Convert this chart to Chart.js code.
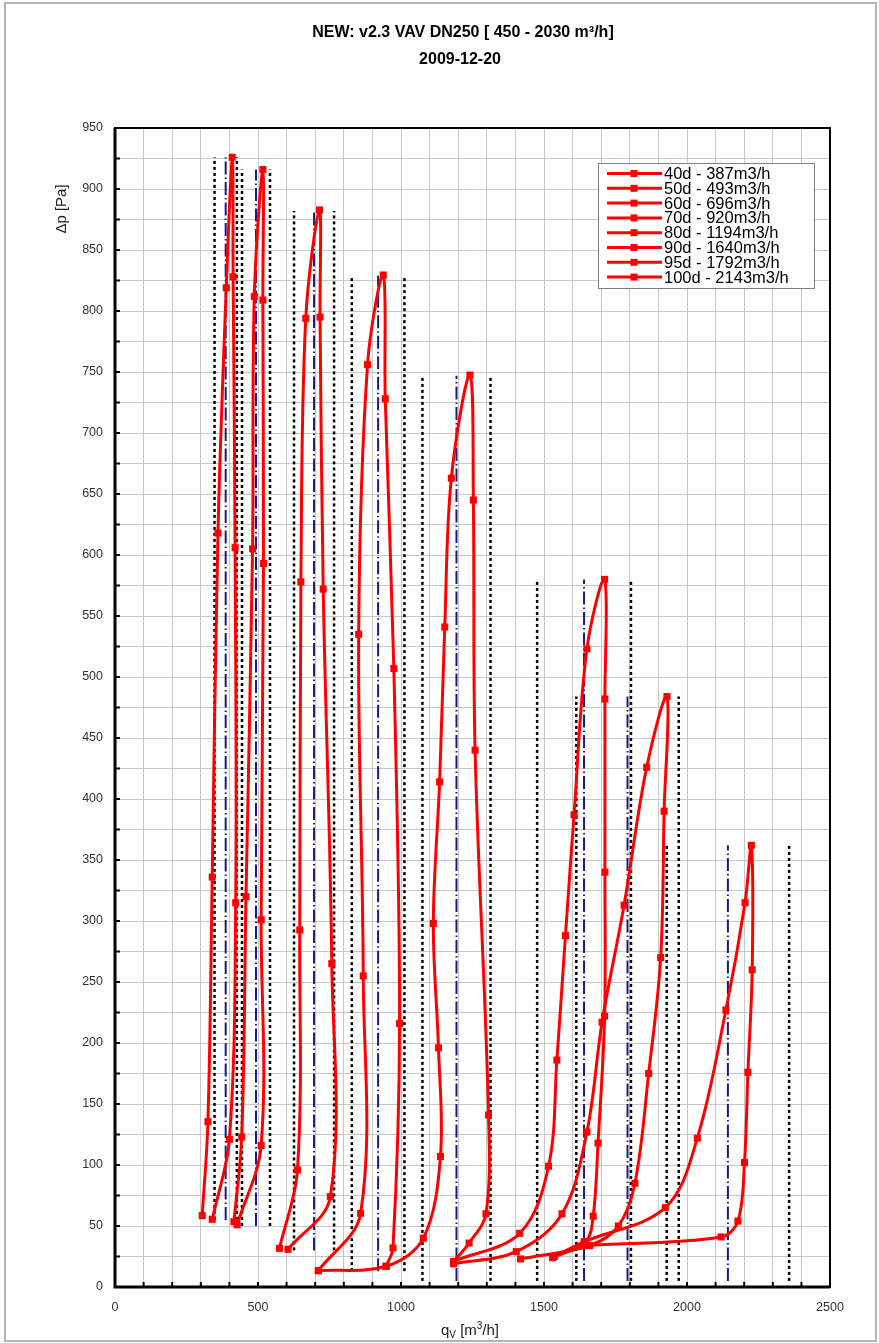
<!DOCTYPE html>
<html>
<head>
<meta charset="utf-8">
<script src="https://cdn.jsdelivr.net/npm/chart.js@4.4.1/dist/chart.umd.min.js"></script>
<style>
  body { margin: 0; background: #fff; }
  canvas { display: block; }
</style>
</head>
<body>
<canvas id="vavChart" width="879" height="1343"></canvas>
<script>
// damper loops, flow qV [m3/h] and pressure dp [Pa]
const q40 = [305, 325, 340, 360, 389, 410, 413, 420, 422, 400, 340];
const p40 = [58.5, 135.5, 336, 618, 819, 926, 828, 606, 315, 121, 55.5];

const q50 = [416, 443, 458, 481, 487, 517, 517, 519, 511, 511, 427];
const p50 = [53.5, 123, 320, 605, 812, 916, 809, 593, 301, 116, 51];

const q60 = [575, 638, 646, 650, 667, 715, 717, 728, 758, 753, 605];
const p60 = [31.7, 96, 292.6, 578, 794, 882.8, 795, 572, 265, 74, 30.9];

const q70 = [711, 859, 868, 852, 883, 938, 945, 975, 995, 972, 948];
const p70 = [13.4, 60.4, 255, 535, 756, 829.5, 728, 507, 216, 32, 17];

const q80 = [711, 948, 1078, 1138, 1131, 1113, 1135, 1153, 1176, 1241, 1253, 1259, 1306, 1297, 1238, 1184];
const p80 = [13.4, 17, 40, 107, 196, 298, 414, 541, 663, 747.5, 645, 440, 141, 60, 36, 20.7];

const q90 = [1184, 1415, 1516, 1545, 1575, 1605, 1650, 1712, 1713, 1713, 1712, 1689, 1672, 1645, 1530];
const p90 = [21, 44, 99, 186, 288, 387, 523, 580, 482, 340, 222, 118, 58, 37, 24];

const q95 = [1184, 1403, 1563, 1650, 1703, 1780, 1859, 1930, 1920, 1908, 1866, 1818, 1760, 1660, 1418];
const p95 = [19, 29, 60, 127, 217, 313, 426, 484, 390, 270, 175, 85, 50, 34, 23];

const q100 = [1536, 1640, 1924, 2036, 2136, 2203, 2225, 2228, 2213, 2201, 2178, 2119, 1645];
const p100 = [25, 37, 65, 122, 227, 315, 362, 260, 176, 102, 54, 41, 34];

const seriesLabels = ["40d - 387m3/h", "50d - 493m3/h", "60d - 696m3/h", "70d - 920m3/h",
  "80d - 1194m3/h", "90d - 1640m3/h", "95d - 1792m3/h", "100d - 2143m3/h"];

// nominal flow (blue) and tolerance limits (black dotted) per damper angle
const nominalFlow = [387, 493, 696, 920, 1194, 1640, 1792, 2143];
const lowerFlow = [348, 444, 626, 828, 1075, 1476, 1613, 1929];
const upperFlow = [426, 542, 766, 1012, 1313, 1804, 1971, 2357];
const lineTop = [926, 916, 882, 829, 747, 580, 484, 362];
const lineBottom = [55, 50, 30, 13, 5, 5, 5, 5];

const curveQ = [q40, q50, q60, q70, q80, q90, q95, q100];
const curveP = [p40, p50, p60, p70, p80, p90, p95, p100];

const RED = "#ff0000";
const NAVY = "#1a1a80";
const FONT = "'Liberation Sans', Arial, sans-serif";

let datasets = [];

// vertical reference lines first, drawn under the curves
for (let i = 0; i < nominalFlow.length; i++) {
  [lowerFlow[i], upperFlow[i]].forEach(function (q) {
    datasets.push({
      data: [{ x: q, y: lineBottom[i] }, { x: q, y: lineTop[i] }],
      showLine: true, pointRadius: 0, borderColor: "#000", borderWidth: 2.5,
      borderDash: [3, 3], order: 2
    });
  });
  datasets.push({
    data: [{ x: nominalFlow[i], y: lineBottom[i] }, { x: nominalFlow[i], y: lineTop[i] }],
    showLine: true, pointRadius: 0, borderColor: NAVY, borderWidth: 2,
    borderDash: [13, 3, 1.5, 3], order: 2
  });
}

for (let i = 0; i < curveQ.length; i++) {
  datasets.push({
    label: seriesLabels[i],
    data: curveQ[i].map(function (q, k) { return { x: q, y: curveP[i][k] }; }),
    showLine: true, tension: 0.35, borderColor: RED, borderWidth: 3,
    pointStyle: "rect", pointRadius: 5, pointBackgroundColor: RED,
    pointBorderColor: RED, pointBorderWidth: 0, order: 1
  });
}

// frame, inside tick marks, titles and the boxed legend
const sheetDecor = {
  id: "sheetDecor",
  afterDraw(chart) {
    const ctx = chart.ctx;
    const a = chart.chartArea;
    const xs = chart.scales.x, ys = chart.scales.y;
    ctx.save();

    // outer grey frame of the sheet
    ctx.strokeStyle = "#b4b4b4";
    ctx.lineWidth = 2;
    ctx.strokeRect(5, 3, 871, 1338);

    // tick marks pointing into the plot
    ctx.strokeStyle = "#000";
    ctx.lineWidth = 2;
    xs.ticks.forEach(function (t) {
      const px = xs.getPixelForValue(t.value);
      ctx.beginPath(); ctx.moveTo(px, a.bottom); ctx.lineTo(px, a.bottom - 5); ctx.stroke();
    });
    ys.ticks.forEach(function (t) {
      const py = ys.getPixelForValue(t.value);
      ctx.beginPath(); ctx.moveTo(a.left, py); ctx.lineTo(a.left + 5, py); ctx.stroke();
    });

    // plot frame
    ctx.lineWidth = 2;
    ctx.strokeRect(a.left, a.top, a.right - a.left, a.bottom - a.top);
    ctx.lineWidth = 3;
    ctx.beginPath();
    ctx.moveTo(a.left, a.top); ctx.lineTo(a.left, a.bottom); ctx.lineTo(a.right, a.bottom);
    ctx.stroke();

    // title
    ctx.fillStyle = "#000";
    ctx.textAlign = "center";
    ctx.textBaseline = "middle";
    ctx.font = "bold 16px " + FONT;
    ctx.fillText("NEW: v2.3 VAV DN250 [ 450 - 2030 m³/h]", 463, 33);
    ctx.fillText("2009-12-20", 460, 60);

    // y axis title
    ctx.fillStyle = "#222";
    ctx.font = "15px " + FONT;
    ctx.save();
    ctx.translate(62, 209);
    ctx.rotate(-Math.PI / 2);
    ctx.fillText("Δp [Pa]", 0, 0);
    ctx.restore();

    // x axis title with subscript V
    ctx.textAlign = "left";
    const parts = [["q", "15px", 0], ["V", "10px", 4], [" [m", "15px", 0], ["3", "10px", -5], ["/h]", "15px", 0]];
    let w = 0;
    parts.forEach(function (p) { ctx.font = p[1] + " " + FONT; w += ctx.measureText(p[0]).width; });
    let cx = 470 - w / 2;
    parts.forEach(function (p) {
      ctx.font = p[1] + " " + FONT;
      ctx.fillText(p[0], cx, 1331 + p[2]);
      cx += ctx.measureText(p[0]).width;
    });

    // legend box
    const lx = 598, ly = 163, lw = 216, lh = 125;
    ctx.fillStyle = "#fff";
    ctx.fillRect(lx, ly, lw, lh);
    ctx.strokeStyle = "#808080";
    ctx.lineWidth = 1;
    ctx.strokeRect(lx + 0.5, ly + 0.5, lw, lh);
    ctx.font = "16.5px " + FONT;
    ctx.textBaseline = "middle";
    seriesLabels.forEach(function (label, i) {
      const ry = ly + 10.5 + i * 14.8;
      ctx.strokeStyle = RED;
      ctx.lineWidth = 3;
      ctx.beginPath(); ctx.moveTo(607, ry); ctx.lineTo(662, ry); ctx.stroke();
      ctx.fillStyle = RED;
      ctx.fillRect(634 - 3.5, ry - 3.5, 7, 7);
      ctx.fillStyle = "#000";
      ctx.fillText(label, 664, ry + 1);
    });
    ctx.restore();
  }
};

new Chart(document.getElementById("vavChart"), {
  type: "scatter",
  data: { datasets: datasets },
  options: {
    responsive: false,
    animation: false,
    devicePixelRatio: 1,
    layout: { padding: { top: 128, right: 49, bottom: 0, left: 0 } },
    plugins: {
      legend: { display: false },
      title: { display: false },
      tooltip: { enabled: false }
    },
    scales: {
      x: {
        type: "linear", min: 0, max: 2500,
        ticks: {
          stepSize: 100, autoSkip: false, maxRotation: 0, padding: 13,
          color: "#333", font: { family: FONT, size: 12.5 },
          callback: function (v) { return v % 500 === 0 ? v : ""; }
        },
        grid: { color: "#c8c8c8", lineWidth: 1, drawTicks: false },
        border: { display: false },
        afterFit: function (s) { s.height = 56; }
      },
      y: {
        type: "linear", min: 0, max: 950,
        ticks: {
          stepSize: 25, autoSkip: false, padding: 12,
          color: "#333", font: { family: FONT, size: 12.5 },
          callback: function (v) { return v % 50 === 0 ? v : ""; }
        },
        grid: { color: "#c8c8c8", lineWidth: 1, drawTicks: false },
        border: { display: false },
        afterFit: function (s) { s.width = 115; }
      }
    }
  },
  plugins: [sheetDecor]
});
</script>
</body>
</html>
